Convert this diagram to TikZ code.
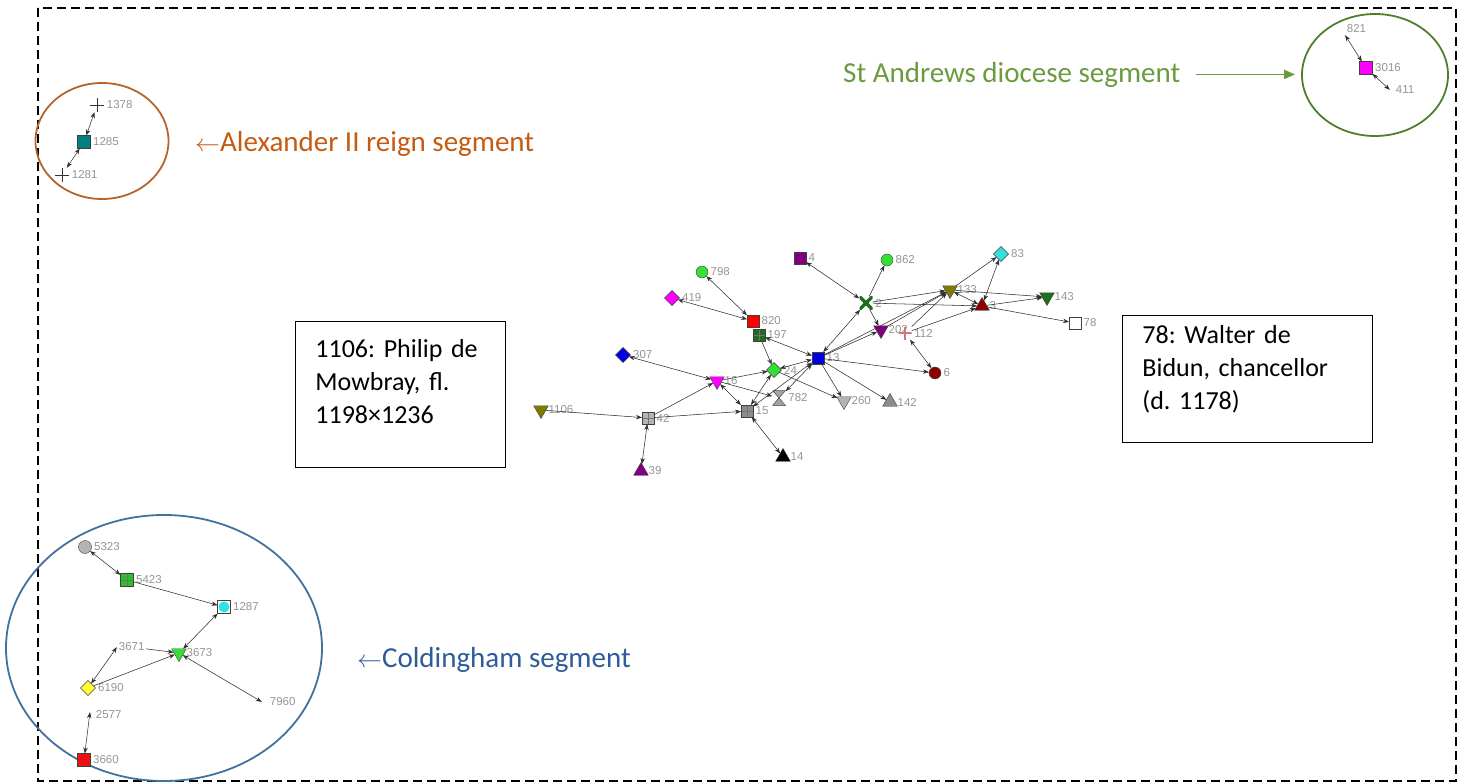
\documentclass[tikz,border=0pt]{standalone}
\usepackage{fontspec}
\setmainfont{Carlito}
\newfontfamily\lbfont{Liberation Sans}
\usetikzlibrary{arrows.meta,shapes.geometric}

\definecolor{olivec}{HTML}{7F7A00}
\definecolor{purp}{HTML}{800080}
\definecolor{mag}{HTML}{FF00FF}
\definecolor{blu}{HTML}{0000E0}
\definecolor{grn}{HTML}{33E033}
\definecolor{dkgrn}{HTML}{1E6E1E}
\definecolor{dkred}{HTML}{8B0000}
\definecolor{cyn}{HTML}{33E0E0}
\definecolor{tealc}{HTML}{008080}
\definecolor{ltgray}{HTML}{B4B4B4}
\definecolor{mdgray}{HTML}{8C8C8C}
\definecolor{yel}{HTML}{FFFF33}
\definecolor{rd}{HTML}{EE1111}
\definecolor{pinkc}{HTML}{D07878}
\definecolor{orngtext}{HTML}{C55A11}
\definecolor{orngring}{HTML}{B5642C}
\definecolor{grntext}{HTML}{6A9B3E}
\definecolor{grnring}{HTML}{4F7F2D}
\definecolor{bluetext}{HTML}{2E5B9A}
\definecolor{bluering}{HTML}{41719C}

\tikzset{
  nd/.style={draw=black!75, line width=0.4pt, inner sep=0pt, outer sep=0pt},
  sqn/.style={nd, rectangle, minimum size=11pt, fill=#1},
  gridn/.style={sqn=#1, path picture={\draw[black!55, line width=0.4pt]
      (path picture bounding box.north) -- (path picture bounding box.south)
      (path picture bounding box.west) -- (path picture bounding box.east);}},
  circn/.style={nd, circle, minimum size=12pt, fill=#1},
  trin/.style={nd, regular polygon, regular polygon sides=3, minimum size=17pt, fill=#1},
  itrin/.style={trin=#1, shape border rotate=180},
  diamn/.style={nd, diamond, minimum size=15pt, fill=#1},
  hourn/.style={inner sep=0pt, minimum width=13pt, minimum height=15pt, path picture={
      \filldraw[fill=#1, draw=black!70, line width=0.5pt]
        (path picture bounding box.north west) -- (path picture bounding box.north east)
        -- (path picture bounding box.center) -- cycle
        (path picture bounding box.south west) -- (path picture bounding box.south east)
        -- (path picture bounding box.center) -- cycle;}},
  xcrossn/.style={inner sep=0pt, minimum size=13pt, path picture={
      \fill[#1] ([shift={(-3pt,-3pt)}]path picture bounding box.center) rectangle
                ([shift={(3pt,3pt)}]path picture bounding box.center);
      \draw[#1, line width=3.5pt]
      (path picture bounding box.north west) -- (path picture bounding box.south east)
      (path picture bounding box.north east) -- (path picture bounding box.south west);}},
  crossn/.style={inner sep=0pt, minimum size=13pt, path picture={\draw[#1, line width=2.2pt]
      (path picture bounding box.north) -- (path picture bounding box.south)
      (path picture bounding box.west) -- (path picture bounding box.east);}},
  plusn/.style={inner sep=0pt, minimum size=14pt, path picture={\draw[black!80, line width=0.6pt]
      (path picture bounding box.north) -- (path picture bounding box.south)
      (path picture bounding box.west) -- (path picture bounding box.east);}},
  ptn/.style={inner sep=0pt, minimum size=0pt},
  lbl/.style={text=black!42, font=\lbfont\fontsize{11.5}{13}\selectfont, inner sep=1.5pt},
  nlab/.style={label={[lbl, label distance=1pt]right:#1}},
  ln/.style={draw=black!82, line width=0.55pt},
  ring/.style={draw=#1, line width=1.8pt, ellipse, inner sep=0pt},
  tbox/.style={draw=black, line width=0.9pt, align=left, inner xsep=20pt, inner ysep=0pt,
      anchor=north west, font=\fontsize{26}{33}\selectfont\frenchspacing},
  seglbl/.style={anchor=base west, inner sep=0pt, font=\fontsize{29}{35}\selectfont}
}

\begin{document}
\begin{tikzpicture}[x=1pt, y=-1pt, >={Stealth[length=6pt,width=4.4pt]}]
\useasboundingbox (0,0) rectangle (1468,784);

% outer dashed frame
\draw[line width=1.3pt, dash pattern=on 9pt off 5pt] (38,8) rectangle (1456,781);

% ---------- main component ----------
\node[itrin=olivec, nlab=1106] (n1106) at (541,410) {};
\node[gridn=ltgray, minimum size=12pt, nlab=42] (n42) at (648,418) {};
\node[trin=purp, nlab=39] (n39) at (641,471) {};
\node[diamn=blu, nlab=307] (n307) at (623,355) {};
\node[itrin=mag, nlab=16] (n16) at (717,381) {};
\node[diamn=mag, nlab=419] (n419) at (672,298) {};
\node[circn=grn, nlab=798] (n798) at (702,272) {};
\node[sqn=red, minimum size=12pt, nlab=820] (n820) at (753,321) {};
\node[gridn=dkgrn, minimum size=12pt, nlab=197] (n197) at (759,335) {};
\node[diamn=grn, nlab=24] (n24) at (774,370) {};
\node[sqn=blu, minimum size=12pt, nlab=13] (n13) at (818,358) {};
\node[gridn=mdgray, minimum size=12pt, nlab=15] (n15) at (747,411) {};
\node[hourn=mdgray!80, nlab=782] (n782) at (779,398) {};
\node[trin=black, nlab=14] (n14) at (783,457) {};
\node[itrin=ltgray, nlab=260] (n260) at (844,401) {};
\node[trin=mdgray, nlab=142] (n142) at (890,402) {};
\node[sqn=purp, minimum size=12pt, nlab=4] (n4) at (800,258) {};
\node[circn=grn, nlab=862] (n862) at (887,260) {};
\node[xcrossn=dkgrn, nlab=2] (n2) at (866,303) {};
\node[itrin=purp, nlab=202] (n202) at (881,330) {};
\node[crossn=pinkc, nlab=112] (n112) at (905,333) {};
\node[circn=dkred, nlab=6] (n6) at (935,373) {};
\node[itrin=olivec, nlab=133] (n133) at (950,290) {};
\node[trin=dkred, nlab=3] (n3) at (982,306) {};
\node[diamn=cyn, nlab=83] (n83) at (1001,254) {};
\node[itrin=dkgrn, nlab=143] (n143) at (1047,297) {};
\node[sqn=white, minimum size=12pt, nlab=78] (n78) at (1075,323) {};

\draw[ln,->] (n1106) -- (n42);
\draw[ln,->] (n42) -- (n16);
\draw[ln,->] (n42) -- (n15);
\draw[ln,<->] (n39) -- (n42);
\draw[ln,<->] (n307) -- (n16);
\draw[ln,<->] (n16) -- (n15);
\draw[ln,->] (n16) -- (n24);
\draw[ln,->] (n16) -- (n782);
\draw[ln,<->] (n798) -- (n820);
\draw[ln,<->] (n419) -- (n820);
\draw[ln,<->] (n197) -- (n13);
\draw[ln,->] (n197) -- (n24);
\draw[ln,<->] (n24) -- (n13);
\draw[ln,<->] (n15) -- (n24);
\draw[ln,<->] (n15) -- (n13);
\draw[ln,<->] (n782) -- (n13);
\draw[ln,<->] (n15) -- (n14);
\draw[ln,->] (n24) -- (n260);
\draw[ln,->] (n13) -- (n260);
\draw[ln,->] (n13) -- (n142);
\draw[ln,->] (n13) -- (n6);
\draw[ln,<->] (n4) -- (n2);
\draw[ln,->] (n2) -- (n862);
\draw[ln,<->] (n13) -- (n2);
\draw[ln,->] (n2) -- (n202);
\draw[ln,->] (n2) -- (n133);
\draw[ln,->] (n2) -- (n3);
\draw[ln,->] (n13) -- (n202);
\draw[ln,->] (n13) -- (n133);
\draw[ln,->] (n202) -- (n133);
\draw[ln,->] (n112) -- (n133);
\draw[ln,->] (n112) -- (n3);
\draw[ln,<->] (n112) -- (n6);
\draw[ln,<->] (n133) -- (n3);
\draw[ln,->] (n133) -- (n83);
\draw[ln,<->] (n3) -- (n83);
\draw[ln,->] (n3) -- (n143);
\draw[ln,->] (n133) -- (n143);
\draw[ln,->] (n3) -- (n78);

% ---------- Alexander II reign segment ----------
\node[ring=orngring, minimum width=133pt, minimum height=116pt] (segA) at (102,141) {};
\node[plusn, nlab=1378] (n1378) at (97,105) {};
\node[sqn=tealc, minimum size=13pt, nlab=1285] (n1285) at (84,142) {};
\node[plusn, nlab=1281] (n1281) at (62,175) {};
\draw[ln,<->] (n1378) -- (n1285);
\draw[ln,<->] (n1285) -- (n1281);
\node[seglbl, text=orngtext] (alexlbl) at (195,151) {$\leftarrow$Alexander II reign segment};

% ---------- St Andrews diocese segment ----------
\node[ring=grnring, minimum width=146pt, minimum height=122pt] (segC) at (1375,75) {};
\node[ptn, label={[lbl]above right:821}] (n821) at (1345,35) {};
\node[sqn=mag, minimum size=13pt, nlab=3016] (n3016) at (1366,68) {};
\node[ptn, label={[lbl, xshift=4pt]right:411}] (n411) at (1390,90) {};
\draw[ln,<->] (n821) -- (n3016);
\draw[ln,<->] (n3016) -- (n411);
\node[seglbl, text=grntext] (stlbl) at (843,82) {St Andrews diocese segment};
\draw[grntext, line width=1.8pt, -{Triangle[length=11pt,width=9pt]}]
  ([xshift=15pt]stlbl.east) -- ([xshift=-6pt]segC.west |- stlbl.east);

% ---------- Coldingham segment ----------
\node[ring=bluering, minimum width=316pt, minimum height=266pt] (segB) at (164,648) {};
\node[circn=ltgray, minimum size=13pt, nlab=5323] (n5323) at (85,547) {};
\node[gridn=grn!85!black, minimum size=13pt, nlab=5423] (n5423) at (127,580) {};
\node[sqn=white, minimum size=13pt, nlab=1287,
      path picture={\fill[cyn] (path picture bounding box.center) circle (5.5pt);}] (n1287) at (224,607) {};
\node[itrin=grn, nlab=3673] (n3673) at (179,653) {};
\node[ptn, label={[lbl, fill=white, name=l3671]right:3671}] (n3671) at (117,647) {};
\node[diamn=yel, nlab=6190] (n6190) at (88,688) {};
\node[ptn, label={[lbl, yshift=-3pt, xshift=4pt]right:2577}] (n2577) at (90,712) {};
\node[sqn=rd, minimum size=13pt, nlab=3660] (n3660) at (84,760) {};
\node[ptn, label={[lbl, xshift=6pt]right:7960}] (n7960) at (262,702) {};
\draw[ln,<->] (n5323) -- (n5423);
\draw[ln,->] (n5423) -- (n1287);
\draw[ln,<->] (n3673) -- (n1287);
\draw[ln,->] (l3671) -- (n3673);
\draw[ln,->] (n6190) -- (n3673);
\draw[ln,<->] (n3671) -- (n6190);
\draw[ln,<->] (n3673) -- (n7960);
\draw[ln,<->] (n2577) -- (n3660);
\node[seglbl, text=bluetext] (coldlbl) at (357,667) {$\leftarrow$Coldingham segment};

% ---------- descriptive boxes ----------
\node[tbox, text width=170pt] (boxA) at (295,321)
  {\rule{0pt}{36pt}1106: Philip de\\Mowbray, fl.\\1198×1236\rule[-44pt]{0pt}{44pt}};
\node[tbox, text width=210pt] (boxB) at (1122,315)
  {\rule{0pt}{28pt}78: Walter de\\Bidun, chancellor\\(d. 1178)\rule[-33pt]{0pt}{33pt}};
\end{tikzpicture}
\end{document}
